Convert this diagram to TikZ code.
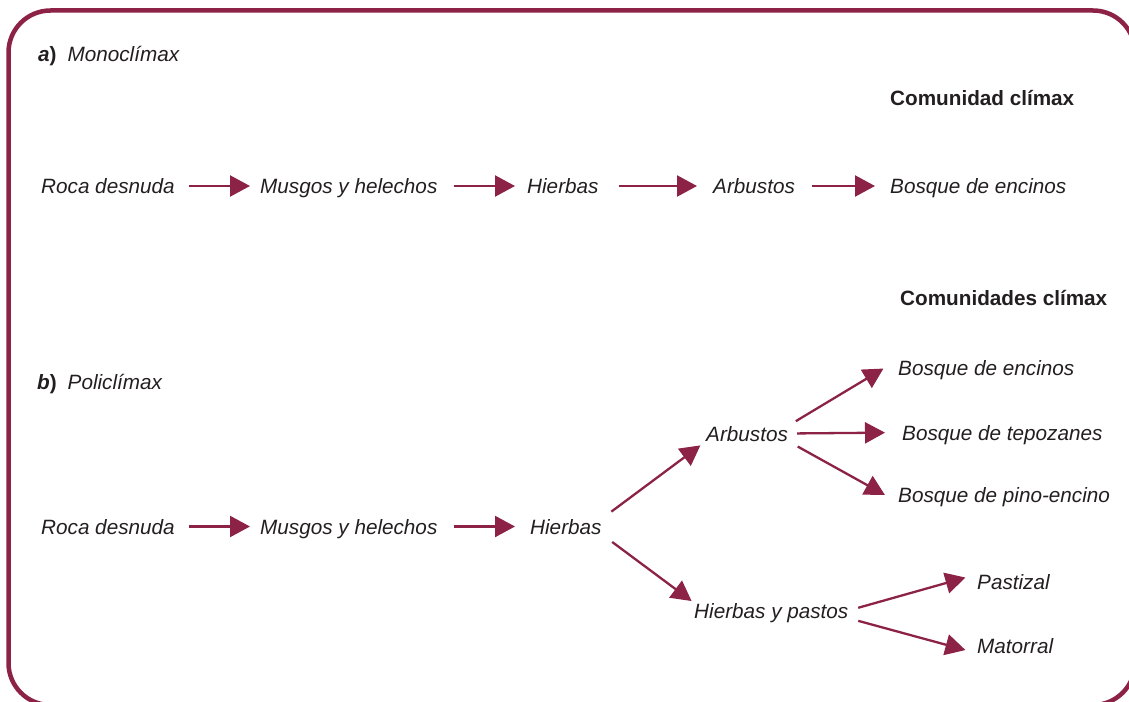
\documentclass[tikz,border=0pt]{standalone}
\usepackage{fontspec}
\setmainfont{Liberation Sans}
\usetikzlibrary{arrows.meta}
\definecolor{vino}{RGB}{140,34,70}
\definecolor{tinta}{RGB}{35,31,32}
\begin{document}
\begin{tikzpicture}[x=1pt,y=-1pt,
  every node/.style={font=\fontsize{20.7}{24}\selectfont\itshape,text=tinta,inner sep=0pt,text height=15pt,text depth=0pt,anchor=west},
  titulo/.style={font=\fontsize{20.7}{24}\selectfont\bfseries},
  flecha/.style={draw=vino,line width=2.3pt,-{Triangle[length=20pt,width=21pt]}}]
\useasboundingbox (0,0) rectangle (1129,701);
\clip (0,0) rectangle (1129,701);
\draw[vino,line width=4.5pt,rounded corners=42pt] (8.5,10.5) rectangle (1135,705);
% a) monoclimax
\node (tituloA) at (38,54.5) {{\bfseries a\upshape)}\hspace{11pt}Monoclímax};
\node[titulo] (climaxA) at (890,97.5) {Comunidad clímax};
\node (rocaA) at (41,186) {Roca desnuda};
\node (musgosA) at (260,186) {Musgos y helechos};
\node (hierbasA) at (527,186) {Hierbas};
\node (arbustosA) at (713,186) {Arbustos};
\node (bosqueA) at (890,186) {Bosque de encinos};
\draw[flecha,shorten <=14pt,shorten >=10pt] (rocaA) -- (musgosA);
\draw[flecha,shorten <=16pt,shorten >=12pt] (musgosA) -- (hierbasA);
\draw[flecha,shorten <=20pt,shorten >=16pt] (hierbasA) -- (arbustosA);
\draw[flecha,shorten <=17pt,shorten >=15pt] (arbustosA) -- (bosqueA);
% b) policlimax
\node (tituloB) at (37,381.5) {{\bfseries b\upshape)}\hspace{11pt}Policlímax};
\node[titulo] (climaxB) at (900,297.5) {Comunidades clímax};
\node (rocaB) at (41,526.5) {Roca desnuda};
\node (musgosB) at (260,526.5) {Musgos y helechos};
\node (hierbasB) at (530,526.5) {Hierbas};
\node (arbustosB) at (706,433.5) {Arbustos};
\node (pastosB) at (694,610.5) {Hierbas y pastos};
\node (encinosB) at (898,367.5) {Bosque de encinos};
\node (tepozanesB) at (902,432.5) {Bosque de tepozanes};
\node (pinoB) at (898,494.5) {Bosque de pino-encino};
\node (pastizalB) at (977,582) {Pastizal};
\node (matorralB) at (977,645.5) {Matorral};
\draw[flecha,shorten <=14pt,shorten >=10pt] (rocaB) -- (musgosB);
\draw[flecha,shorten <=16pt,shorten >=15pt] (musgosB) -- (hierbasB);
\draw[flecha,shorten <=12pt,shorten >=7pt] (hierbasB.north east) -- (arbustosB.south west);
\draw[flecha,shorten <=13pt,shorten >=3pt] (hierbasB.south east) -- (pastosB.north west);
\draw[flecha,shorten <=9pt,shorten >=17pt] (arbustosB.north east) -- (encinosB.north west);
\draw[flecha,shorten <=9pt,shorten >=17pt] (arbustosB.east) -- (tepozanesB.west);
\draw[flecha,shorten <=11pt,shorten >=15pt] (arbustosB.south east) -- (pinoB.south west);
\draw[flecha,shorten <=10pt,shorten >=12pt] (pastosB.east) -- (pastizalB.north west);
\draw[flecha,shorten <=10pt,shorten >=12pt] (pastosB.south east) -- (matorralB.south west);
\end{tikzpicture}
\end{document}
